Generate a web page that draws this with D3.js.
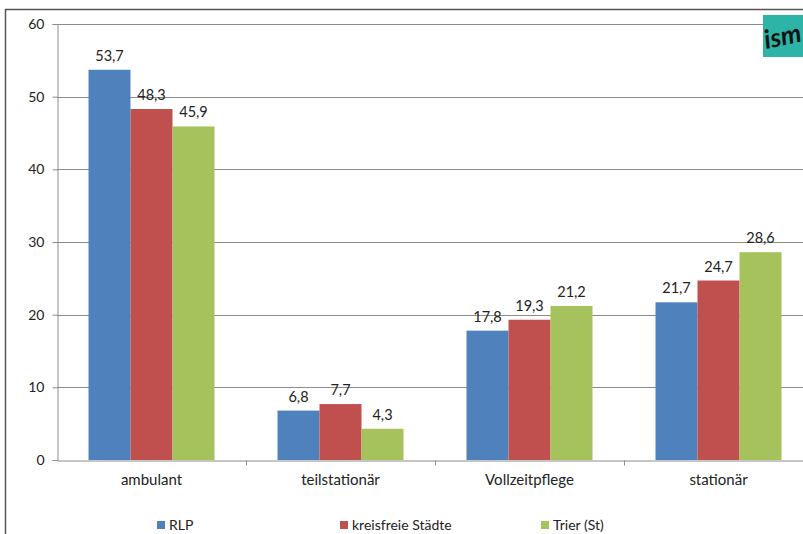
<!DOCTYPE html>
<html><head><meta charset="utf-8">
<script src="https://cdn.jsdelivr.net/npm/d3@7"></script>
<style>
html,body{margin:0;padding:0;background:#fff;overflow:hidden;}
svg{display:block;font-family:Lato,"Open Sans",sans-serif;}
</style></head>
<body>
<script>
const categories = ["ambulant", "teilstationär", "Vollzeitpflege", "stationär"];
const seriesNames = ["RLP", "kreisfreie Städte", "Trier (St)"];
const rlp = [53.7, 6.8, 17.8, 21.7];
const kreisfreie = [48.3, 7.7, 19.3, 24.7];
const trier = [45.9, 4.3, 21.2, 28.6];
const yTicks = [0, 10, 20, 30, 40, 50, 60];
const colors = ["#4f81bd", "#c0504d", "#a5c25c"];

const W = 803, H = 534;
const svg = d3.select("body").append("svg").attr("width", W).attr("height", H);

const x0 = 57, x1 = 813, yTop = 24, yBot = 460;
const x = d3.scaleBand().domain(categories).range([x0, x1]).paddingInner(0).paddingOuter(0);
const xs = d3.scaleBand().domain(seriesNames).range([0, x.bandwidth()]).paddingOuter(0.75).paddingInner(0);
const y = d3.scaleLinear().domain([0, 60]).range([yBot, yTop]);

// outer frame
svg.append("line").attr("x1",5).attr("x2",W).attr("y1",9.5).attr("y2",9.5).attr("stroke","#555").attr("stroke-width",1.5);
svg.append("line").attr("x1",5.5).attr("x2",5.5).attr("y1",9).attr("y2",H).attr("stroke","#555").attr("stroke-width",1.5);

// gridlines
svg.append("g").selectAll("line").data(yTicks.filter(d=>d>0)).join("line")
  .attr("x1", x0).attr("x2", W).attr("y1", d=>Math.round(y(d))+0.5).attr("y2", d=>Math.round(y(d))+0.5)
  .attr("stroke", "#8c8c8c").attr("stroke-width", 1);

// y axis
const yAxis = d3.axisLeft(y).tickValues(yTicks).tickSize(5).tickPadding(8).tickFormat(d3.format("d"));
const gy = svg.append("g").attr("transform", `translate(${x0+0.5},0)`).call(yAxis);
gy.select(".domain").attr("stroke", "#8c8c8c");
gy.selectAll(".tick line").attr("stroke", "#8c8c8c");
gy.selectAll(".tick text").attr("font-size", 14).attr("fill", "#222").attr("font-family","Lato,sans-serif");

// bars
const data = [rlp, kreisfreie, trier];
const gBars = svg.append("g");
data.forEach((vals, si) => {
  gBars.selectAll(null).data(vals).join("rect")
    .attr("x", (d,i)=> x(categories[i]) + xs(seriesNames[si]))
    .attr("width", xs.bandwidth())
    .attr("y", d=> y(d))
    .attr("height", d=> yBot - y(d))
    .attr("fill", colors[si]);
  gBars.selectAll(null).data(vals).join("text")
    .attr("x", (d,i)=> x(categories[i]) + xs(seriesNames[si]) + xs.bandwidth()/2)
    .attr("y", d=> y(d) - 9)
    .attr("text-anchor", "middle")
    .attr("font-size", 14.5).attr("fill", "#222")
    .text(d=> d3.format(".1f")(d).replace(".", ","));
});

// x axis
const xAxis = d3.axisBottom(x).tickSize(0).tickPadding(14);
const gx = svg.append("g").attr("transform", `translate(0,${yBot+0.5})`).call(xAxis);
gx.select(".domain").attr("stroke", "#8c8c8c");
gx.selectAll(".tick text").attr("font-size", 15).attr("fill", "#222").attr("font-family","Lato,sans-serif");
// category separators
gx.selectAll(null).data(categories.slice(1)).join("line")
  .attr("x1", d=>Math.round(x(d))+0.5).attr("x2", d=>Math.round(x(d))+0.5)
  .attr("y1", 0).attr("y2", 5).attr("stroke", "#8c8c8c");

// legend
const legendX = [157, 340, 541];
const lg = svg.append("g");
seriesNames.forEach((s, i) => {
  lg.append("rect").attr("x", legendX[i]).attr("y", 521).attr("width", 8).attr("height", 8).attr("fill", colors[i]);
  lg.append("text").attr("x", legendX[i] + 12).attr("y", 530).attr("font-size", 14).attr("fill", "#222").text(s);
});

// logo
svg.append("rect").attr("x", 763).attr("y", 15).attr("width", 40).attr("height", 42).attr("fill", "#2db4a6");
svg.append("text").attr("x", 766).attr("y", 49).attr("font-size", 26).attr("font-weight", "bold")
  .attr("font-style", "italic").attr("fill", "#111").attr("font-family","Lato,sans-serif")
  .attr("transform", "rotate(-12,766,49)").text("ism");
</script>
</body></html>
